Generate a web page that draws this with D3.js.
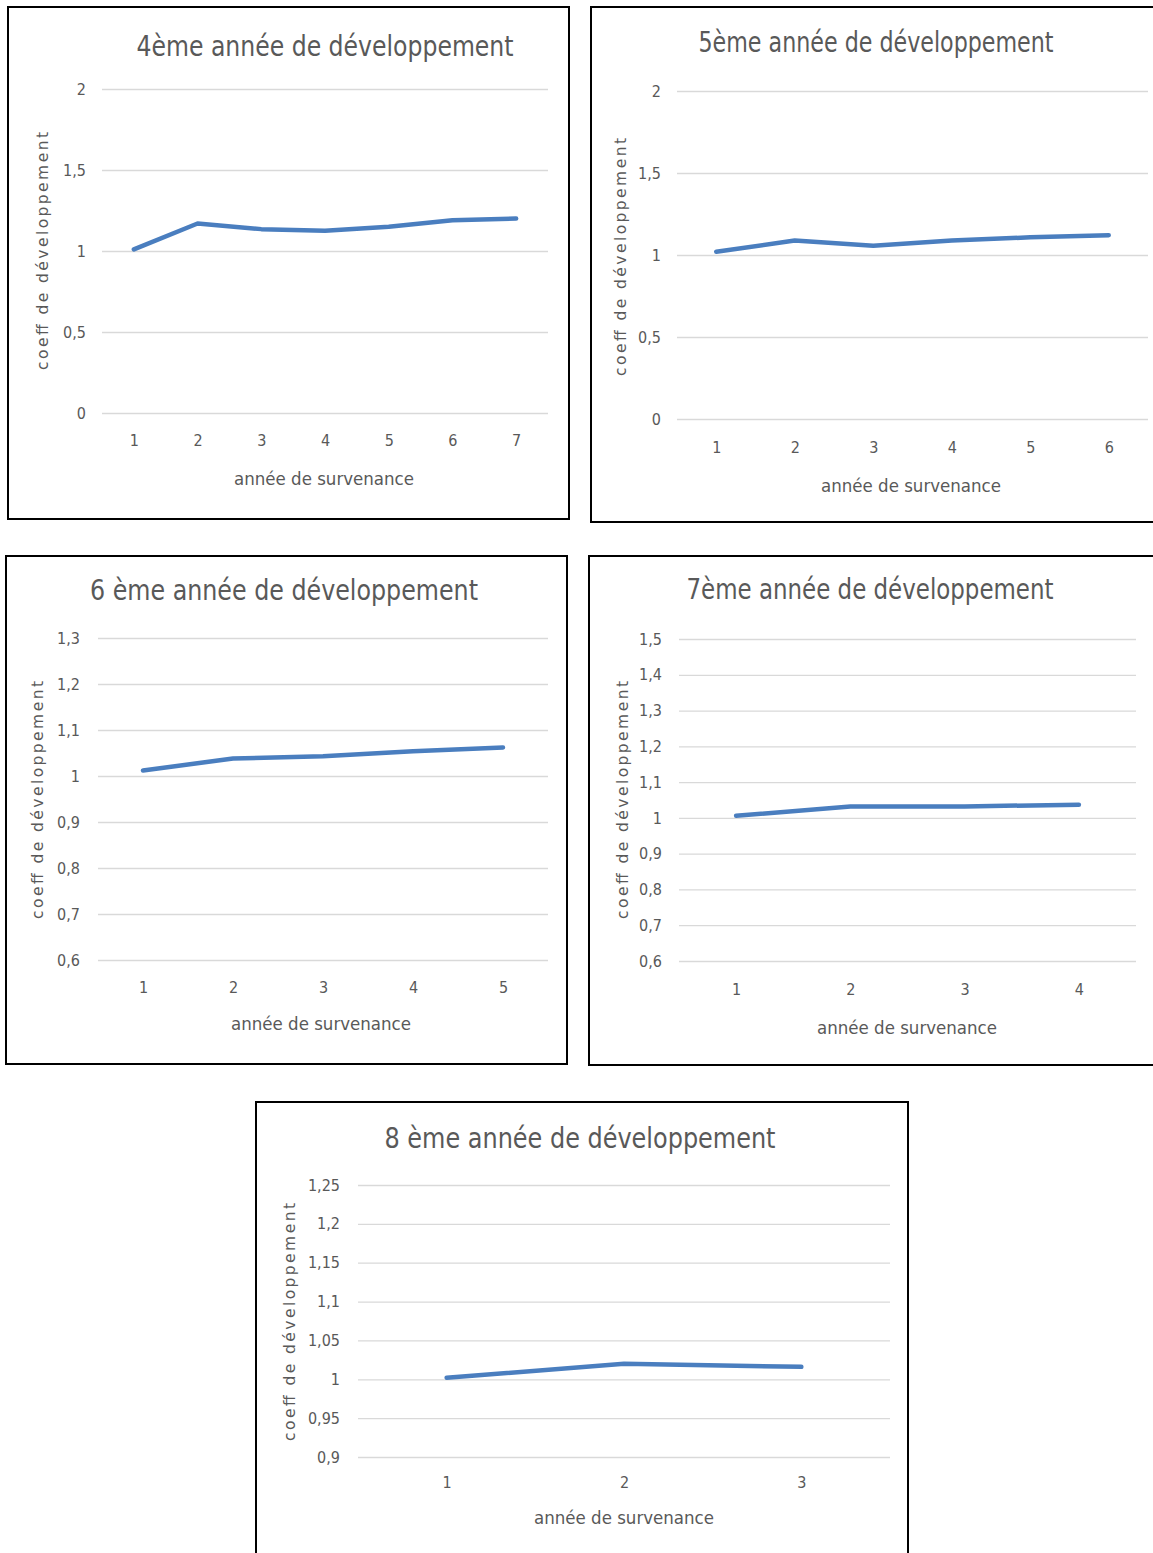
<!DOCTYPE html>
<html><head><meta charset="utf-8">
<script src="https://cdn.jsdelivr.net/npm/d3@7"></script>
<style>body{margin:0;background:#fff}svg{display:block}</style>
</head><body>
<svg id="c" width="1153" height="1553"></svg>
<script>
// ---- data ----
const titles = ["4ème année de développement","5ème année de développement","6 ème année de développement","7ème année de développement","8 ème année de développement"];
const cats4 = [1,2,3,4,5,6,7];
const vals4 = [1.01,1.17,1.135,1.125,1.15,1.19,1.20];
const ticks4 = [0,0.5,1,1.5,2];
const cats5 = [1,2,3,4,5,6];
const vals5 = [1.02,1.088,1.057,1.088,1.108,1.12];
const ticks5 = [0,0.5,1,1.5,2];
const cats6 = [1,2,3,4,5];
const vals6 = [1.012,1.038,1.043,1.054,1.062];
const ticks6 = [0.6,0.7,0.8,0.9,1,1.1,1.2,1.3];
const cats7 = [1,2,3,4];
const vals7 = [1.006,1.032,1.032,1.037];
const ticks7 = [0.6,0.7,0.8,0.9,1,1.1,1.2,1.3,1.4,1.5];
const cats8 = [1,2,3];
const vals8 = [1.002,1.020,1.016];
const ticks8 = [0.9,0.95,1,1.05,1.1,1.15,1.2,1.25];
const xTitle = "année de survenance";
const yTitle = "coeff de développement";

// ---- layout ----
const layout = [
 {box:[8,7,561,512], px:[102,548], py:[413,89], t:[325,46,377], yt:[43,251], xt:[324,479], xty:440, ytx:86},
 {box:[591,7,564,515], px:[677,1148], py:[419,91], t:[876,42,355], yt:[621,257], xt:[911,486], xty:447, ytx:661},
 {box:[6,556,561,508], px:[98,548], py:[960,638], t:[284,590,388], yt:[38,800], xt:[321,1024], xty:987, ytx:80},
 {box:[589,556,566,509], px:[679,1136], py:[961,639], t:[870,589,367], yt:[623,800], xt:[907,1028], xty:989, ytx:662},
 {box:[256,1102,652,470], px:[358,890], py:[1457,1185], t:[580,1138,391], yt:[290,1322], xt:[624,1518], xty:1482, ytx:340}
];
const series = [[cats4,vals4,ticks4],[cats5,vals5,ticks5],[cats6,vals6,ticks6],[cats7,vals7,ticks7],[cats8,vals8,ticks8]];

const svg = d3.select("#c");
const gray = "#595959";
const font = "'Liberation Sans Narrow','DejaVu Sans Condensed','Open Sans',sans-serif";
const fmt = v => String(v).replace(".", ",");

series.forEach(([cats, vals, ticks], i) => {
  const L = layout[i];
  const g = svg.append("g");
  g.append("rect").attr("x",L.box[0]).attr("y",L.box[1]).attr("width",L.box[2]).attr("height",L.box[3])
    .attr("fill","#fff").attr("stroke","#000").attr("stroke-width",2);
  const x = d3.scalePoint().domain(cats).range(L.px).padding(0.5);
  const y = d3.scaleLinear().domain([ticks[0], ticks[ticks.length-1]]).range(L.py);

  const ya = g.append("g").attr("transform",`translate(${L.px[0]},0)`)
    .call(d3.axisLeft(y).tickValues(ticks).tickSize(-(L.px[1]-L.px[0])).tickFormat(fmt).tickPadding(L.px[0]-L.ytx));
  ya.select(".domain").remove();
  ya.selectAll(".tick line").attr("stroke","#d9d9d9").attr("stroke-width",1.3);
  ya.selectAll(".tick text").attr("fill",gray).attr("font-family",font).attr("font-size",16);

  const xa = g.append("g").attr("transform",`translate(0,${L.xty})`)
    .call(d3.axisBottom(x).tickSize(0).tickPadding(0));
  xa.select(".domain").remove();
  xa.selectAll(".tick text").attr("fill",gray).attr("font-family",font).attr("font-size",16).attr("dy","0.35em");

  g.append("path").datum(cats.map((c,j)=>[c,vals[j]]))
    .attr("fill","none").attr("stroke","#4a7ebf").attr("stroke-width",4.5).attr("stroke-linecap","round").attr("stroke-linejoin","round")
    .attr("d", d3.line().x(d=>x(d[0])).y(d=>y(d[1])));

  g.append("text").attr("x",L.t[0]).attr("y",L.t[1]).attr("text-anchor","middle").attr("dominant-baseline","central")
    .attr("fill",gray).attr("font-family",font).attr("font-size",28)
    .attr("textLength",L.t[2]).attr("lengthAdjust","spacingAndGlyphs").text(titles[i]);

  g.append("text").attr("x",L.xt[0]).attr("y",L.xt[1]).attr("text-anchor","middle").attr("dominant-baseline","central")
    .attr("fill",gray).attr("font-family",font).attr("font-size",17)
    .attr("textLength",180).attr("lengthAdjust","spacingAndGlyphs").text(xTitle);

  g.append("text").attr("transform",`translate(${L.yt[0]},${L.yt[1]}) rotate(-90)`).attr("text-anchor","middle").attr("dominant-baseline","central")
    .attr("fill",gray).attr("font-family","'DejaVu Sans',sans-serif").attr("font-size",15.5)
    .attr("textLength",238).attr("lengthAdjust","spacing").text(yTitle);
});
</script>
</body></html>
